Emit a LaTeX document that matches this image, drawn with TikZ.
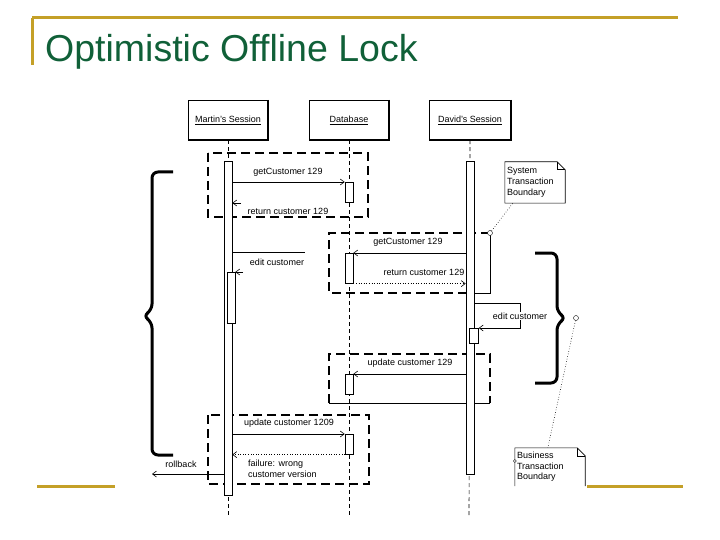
\documentclass[tikz,border=0pt]{standalone}
\usepackage{fontspec}
\setmainfont{Liberation Sans}
\usetikzlibrary{arrows.meta}

\definecolor{gold}{RGB}{196,160,40}
\definecolor{titlegreen}{RGB}{16,96,56}

\tikzset{
  hdr/.style={draw, minimum width=80pt, minimum height=40pt, inner sep=0pt, font=\fontsize{9}{10}\selectfont},
  act/.style={draw, fill=white, inner sep=0pt, minimum width=8pt, anchor=north, line width=0.6pt},
  lifeline/.style={line width=0.6pt, dash pattern=on 4pt off 3pt},
  txbox/.style={line width=2.2pt, dash pattern=on 9pt off 5pt},
  msg/.style={line width=0.6pt, -{Straight Barb[length=4pt, width=6pt]}},
  ret/.style={msg, dotted},
  lbl/.style={font=\fontsize{9}{10}\selectfont, inner sep=1pt},
  brc/.style={line width=3pt, rounded corners=6pt},
  note/.style={inner sep=2pt, align=left, font=\fontsize{9}{11}\selectfont},
  dot/.style={circle, draw, fill=white, inner sep=0pt, minimum size=5pt}
}

\begin{document}
\begin{tikzpicture}[x=1pt, y=-1pt]
	\useasboundingbox (0,0) rectangle (720,540);
	
	% slide frame and title
	\draw[gold, line width=3pt] (32,18) -- (678,18);
	\draw[gold, line width=3pt] (32,18) -- (32,65);
	\draw[gold, line width=3pt] (37,486) -- (115,486);
	\draw[gold, line width=3pt] (587,486) -- (683,486);
	\node[anchor=base west, inner sep=0pt, text=titlegreen, font=\fontsize{37.5}{45}\selectfont] (title) at (45,62) {Optimistic Offline Lock};
	
	% heads
	\node[hdr] (MS) at (228,120) {\underline{Martin's Session}};
	\node[hdr] (DB) at (349,120) {\underline{Database}};
	\node[hdr, minimum width=82pt] (DS) at (470,120) {\underline{David's Session}};
	\foreach \n in {MS,DB,DS}
		\draw[line width=1.6pt] (\n.north east) -- (\n.south east) -- (\n.south west);
	
	% lifelines
	\coordinate (endM) at (228,515);
	\coordinate (endD) at (349,515);
	\coordinate (endV) at (469,515);
	\draw[lifeline] (MS.south) -- (endM);
	\draw[lifeline] (DB.south) -- (endD);
	\draw[lifeline] (DS.south) -- (endV);
	
	% system transactions
	\draw[txbox] (208,153) rectangle (368,217);
	\draw[txbox] (490,233) -- (329,233) -- (329,293) -- (466,293);
	\draw[line width=0.6pt] (490,233) -- (490,293) -- (474,293);
	\draw[txbox] (329,403) -- (329,354) -- (490,354) -- (490,403);
	\draw[line width=0.6pt] (329,403) -- (490,403);
	\draw[txbox] (208,415) rectangle (369,484);
	
	% activations
	\node[act, minimum height=334pt] (MA) at (228,161) {};
	\node[act, minimum height=51pt] (MA2) at (231,272) {};
	\node[act, minimum height=313pt] (VA) at (470,161) {};
	\node[act, minimum height=15pt, minimum width=9pt] (VA2) at (474,328) {};
	\node[act, minimum height=20pt] (DA1) at (349,182) {};
	\node[act, minimum height=30pt] (DA2) at (349,253) {};
	\node[act, minimum height=20pt] (DA3) at (349,374) {};
	\node[act, minimum height=20pt] (DA4) at (349,434) {};
	
	% messages
	\draw[msg] (MA.east |- DA1.north) -- (DA1.north west);
	\node[lbl] (m1) at (288,172) {getCustomer 129};
	\coordinate (r1) at (241,203);
	\draw[msg] (r1) -- (MA.east |- r1);
	\node[lbl] (r1l) at (288,211) {return customer 129};
	
	\coordinate (e1) at (305,252);
	\draw[line width=0.6pt] (MA.east |- e1) -- (e1);
	\coordinate (e2) at (243,272);
	\draw[msg] (e2) -- (MA2.north east);
	\node[lbl] (e1l) at (277,262) {edit customer};
	
	\draw[msg] (VA.west |- DA2.north) -- (DA2.north east);
	\node[lbl] (m2) at (408,242) {getCustomer 129};
	\draw[ret] (DA2.south east) -- (VA.west |- DA2.south);
	\node[lbl] (r2l) at (424,272) {return customer 129};
	
	\coordinate (ve) at (520,303);
	\draw[msg] (VA.east |- ve) -- (ve) |- (VA2.north east);
	\node[lbl, fill=white] (e2l) at (520,316) {edit customer};
	
	\draw[msg] (VA.west |- DA3.north) -- (DA3.north east);
	\node[lbl] (m3) at (410,363) {update customer 129};
	
	\draw[msg] (MA.east |- DA4.north) -- (DA4.north west);
	\node[lbl] (m4) at (289,423) {update customer 1209};
	\draw[ret] (DA4.south west) -- (MA.east |- DA4.south);
	\node[lbl, align=left, anchor=west, font=\fontsize{9}{11}\selectfont] (r4l) at (247,469) {failure: wrong\\customer version};
	\coordinate (rb) at (152,474);
	\draw[msg] (MA.west |- rb) -- (rb);
	\node[lbl] (rbl) at (181,464) {rollback};
	
	% braces
	\draw[brc] (173,172) -| (152,310) -- (143,316) -- (152,322) |- (173,455);
	\draw[brc] (535,253) -| (557,312) -- (566,318) -- (557,324) |- (535,383);
	
	% notes
	\node[dot] (c1) at (490,233) {};
	\node[dot] (c2) at (576,318) {};
	\node[note, text width=56pt, minimum height=41pt] (N1) at (535,182.5) {System\\Transaction\\Boundary};
	\draw[line width=0.6pt] (N1.south west) -- (N1.north west) -- ([xshift=-8pt]N1.north east) -- ([yshift=-8pt]N1.north east) -- (N1.south east) -- cycle;
	\draw[line width=0.6pt] ([xshift=-8pt]N1.north east) |- ([yshift=-8pt]N1.north east);
	\draw[dotted, line width=0.6pt] (c1) -- ([xshift=8pt]N1.south west);
	
	\node[note, text width=66pt, minimum height=38pt, font=\fontsize{9}{10.5}\selectfont] (N2) at (550,467) {Business\\Transaction\\Boundary};
	\draw[line width=0.6pt] (N2.south west) -- (N2.north west) -- ([xshift=-8pt]N2.north east) -- ([yshift=-8pt]N2.north east) -- (N2.south east);
	\draw[line width=0.6pt] ([xshift=-8pt]N2.north east) |- ([yshift=-8pt]N2.north east);
	\node[dot, minimum size=3pt] (c3) at (N2.west |- 0,461) {};
	\draw[dotted, line width=0.6pt] (c2) -- ([xshift=33pt]N2.north west);
	
\end{tikzpicture}
\end{document}
